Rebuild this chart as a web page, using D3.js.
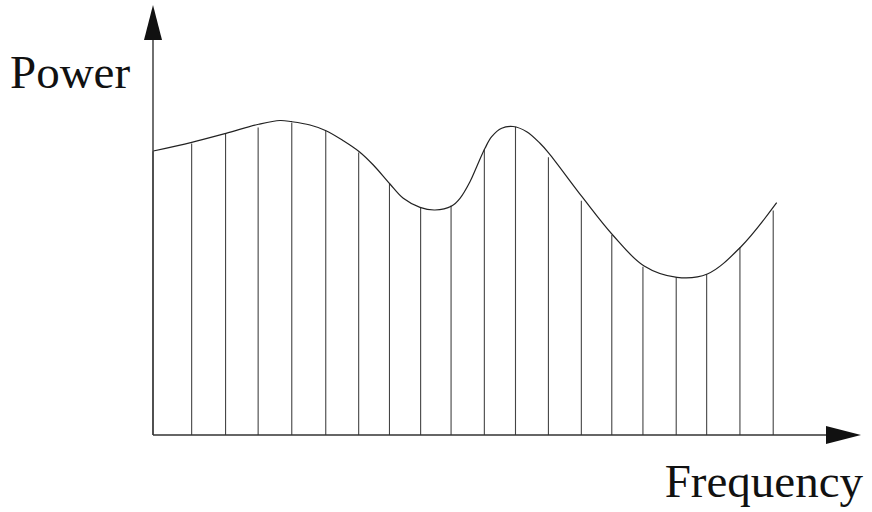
<!DOCTYPE html>
<html>
<head>
<meta charset="utf-8">
<script src="https://cdn.jsdelivr.net/npm/d3@7"></script>
<style>
  html, body { margin: 0; padding: 0; background: #fff; }
  svg { display: block; }
  .lbl { font-family: "Liberation Serif", "Times New Roman", Times, serif; }
</style>
</head>
<body>
<svg id="chart" width="872" height="512"></svg>
<script>
// ---- data ----
const axisLabels = { x: "Frequency", y: "Power" };
// sample frequencies (vertical lines) and their power values
const sampleFreq  = [0, 5.46, 10.25, 14.85, 19.6, 24.4, 29.05, 33.4, 37.8, 42.1, 46.8, 51.2, 55.85, 60.5, 64.8, 69.2, 73.9, 78.2, 82.9, 87.6];
const samplePower = [66.0, 67.8, 70.2, 71.5, 72.6, 70.7, 65.7, 58.4, 52.9, 53.4, 66.4, 71.7, 64.6, 54.5, 46.5, 39.1, 36.7, 37.4, 43.6, 52.2];
// continuous spectrum curve
const curveFreq  = [0.04, 5.47, 10.31, 14.93, 17.94, 19.59, 22.18, 24.44, 26.88, 29.14, 31.12, 33.47, 35.35, 37.71, 39.83, 42.19, 43.36, 44.77, 45.72, 46.89, 47.84, 49.25, 50.85, 52.78, 54.66, 55.93, 60.59, 64.93, 69.31, 74.01, 78.29, 83.05, 88.09];
const curvePower = [66.05, 68.07, 70.16, 72.26, 73.14, 72.86, 72.09, 70.77, 68.44, 65.88, 62.79, 58.37, 55.05, 52.95, 52.33, 53.26, 55.05, 58.91, 62.40, 66.67, 69.37, 71.33, 71.74, 70.53, 67.84, 65.51, 55.42, 46.51, 39.37, 36.67, 37.44, 43.79, 54.02];

// ---- layout ----
const svg = d3.select("#chart");
const x = d3.scaleLinear().domain([0, 100]).range([153, 861]);
const y = d3.scaleLinear().domain([0, 100]).range([435, 5]);

const curve = curveFreq.map((f, i) => [f, curvePower[i]]);
const samples = sampleFreq.map((f, i) => [f, samplePower[i]]);

// vertical sample lines
svg.append("g").selectAll("line").data(samples).join("line")
  .attr("x1", d => x(d[0])).attr("x2", d => x(d[0]))
  .attr("y1", y(0)).attr("y2", d => y(d[1]))
  .attr("stroke", "#444").attr("stroke-width", 1.1);

// spectrum curve
svg.append("path")
  .attr("d", d3.line().x(d => x(d[0])).y(d => y(d[1])).curve(d3.curveCatmullRom.alpha(0.5))(curve))
  .attr("fill", "none").attr("stroke", "#222").attr("stroke-width", 1.2);

// axes
const arrowLen = 35, arrowHalf = 9;
svg.append("line")
  .attr("x1", x(0)).attr("x2", x(100) - arrowLen + 2)
  .attr("y1", y(0)).attr("y2", y(0))
  .attr("stroke", "#333").attr("stroke-width", 1.4);
svg.append("line")
  .attr("x1", x(0)).attr("x2", x(0))
  .attr("y1", y(0)).attr("y2", y(100) + arrowLen - 2)
  .attr("stroke", "#333").attr("stroke-width", 1.4);
// arrow heads
svg.append("path")
  .attr("d", `M${x(100)},${y(0)} L${x(100) - arrowLen},${y(0) - arrowHalf} L${x(100) - arrowLen},${y(0) + arrowHalf} Z`)
  .attr("fill", "#111");
svg.append("path")
  .attr("d", `M${x(0)},${y(100)} L${x(0) - arrowHalf},${y(100) + arrowLen} L${x(0) + arrowHalf},${y(100) + arrowLen} Z`)
  .attr("fill", "#111");

// axis labels
svg.append("text").attr("class", "lbl")
  .attr("x", 10).attr("y", 88)
  .style("font-size", "47px").attr("fill", "#111")
  .text(axisLabels.y);
svg.append("text").attr("class", "lbl")
  .attr("x", 863).attr("y", 497)
  .attr("text-anchor", "end")
  .style("font-size", "47px").attr("fill", "#111")
  .text(axisLabels.x);
</script>
</body>
</html>
